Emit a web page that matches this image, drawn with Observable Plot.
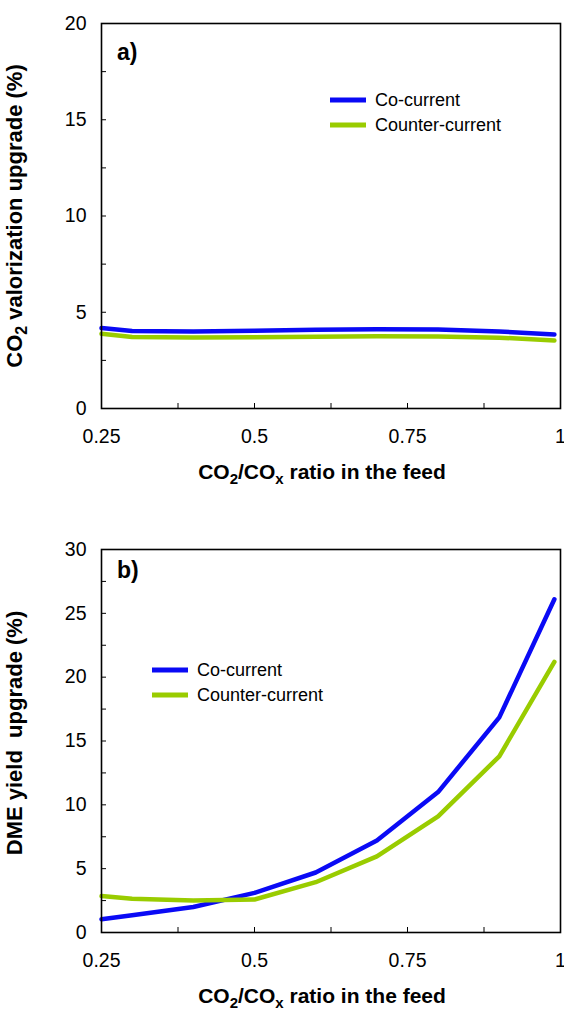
<!DOCTYPE html>
<html><head><meta charset="utf-8">
<script src="https://cdn.jsdelivr.net/npm/d3@7"></script>
<script src="https://cdn.jsdelivr.net/npm/@observablehq/plot@0.6"></script>
<style>
body{margin:0;background:#fff}
#c svg{display:block}
</style>
</head><body><div id="c"></div>
<script>
// ---- data ----
const ratio = [0.25, 0.3, 0.4, 0.5, 0.6, 0.7, 0.8, 0.9, 0.99];
const co2CoCurrent = [4.18, 4.03, 4.0, 4.04, 4.09, 4.12, 4.1, 4.0, 3.84];
const co2Counter = [3.88, 3.72, 3.69, 3.7, 3.73, 3.75, 3.74, 3.68, 3.53];
const dmeCoCurrent = [1.04, 1.35, 2.0, 3.1, 4.7, 7.2, 11.0, 16.85, 26.1];
const dmeCounter = [2.85, 2.64, 2.5, 2.58, 3.94, 5.96, 9.1, 13.8, 21.2];
const seriesNames = ["Co-current", "Counter-current"];
const seriesColors = ["#0a0af5", "#99cc00"];
const xTickLabels = [0.25, 0.5, 0.75, 1];
const xMinorTicks = [0.375, 0.5, 0.625, 0.75, 0.875];
const yTicksA = [0, 5, 10, 15, 20];
const yMinorA = [2.5, 5, 7.5, 10, 12.5, 15, 17.5];
const yTicksB = [0, 5, 10, 15, 20, 25, 30];
const yMinorB = [2.5, 5, 7.5, 10, 12.5, 15, 17.5, 20, 22.5, 25, 27.5];

const FONT = "'Liberation Sans', Arial, Helvetica, sans-serif";

function rows(a, b) {
  const out = [];
  ratio.forEach((r, i) => out.push({ratio: r, value: a[i], series: seriesNames[0]}));
  ratio.forEach((r, i) => out.push({ratio: r, value: b[i], series: seriesNames[1]}));
  return out;
}

function panel(cfg) {
  const data = rows(cfg.a, cfg.b);
  const svg = Plot.plot({
    width: 564, height: cfg.height,
    marginLeft: 101, marginRight: 4, marginTop: cfg.marginTop, marginBottom: cfg.marginBottom,
    style: {fontFamily: FONT, fontSize: "19px", color: "#000", background: "#fff", overflow: "visible"},
    x: {domain: [0.25, 1]},
    y: {domain: cfg.yDomain},
    color: {domain: seriesNames, range: seriesColors},
    marks: [
      Plot.axisX(xMinorTicks, {tickSize: 5, dy: -5, tickFormat: () => "", label: null}),
      Plot.axisX(xTickLabels, {tickSize: 0, tickPadding: 21, fontSize: 19, tickFormat: d => String(d), label: null}),
      Plot.axisY(cfg.yMinor, {tickSize: 5, dx: 5, tickFormat: () => "", label: null}),
      Plot.axisY(cfg.yTicks, {tickSize: 0, tickPadding: 15, fontSize: 19, label: null}),
      Plot.line(data, {x: "ratio", y: "value", stroke: "series", strokeWidth: 4.5, strokeLinejoin: "round"}),
      Plot.frame({stroke: "#000", strokeWidth: 1.6})
    ]
  });
  const s = d3.select(svg);
  s.selectAll('g[aria-label$="tick label"] text').style("font-size", "19.5px");
  // panel tag
  s.append("text").attr("x", 117).attr("y", cfg.tagY).attr("dy", "0.35em").attr("text-anchor", "start")
    .attr("font-family", FONT).attr("font-size", 23).attr("font-weight", "bold").text(cfg.tag);
  // legend
  seriesNames.forEach((n, i) => {
    const y = cfg.legY + i * 25;
    s.append("line").attr("x1", cfg.legX).attr("x2", cfg.legX + 36).attr("y1", y).attr("y2", y)
      .attr("stroke", seriesColors[i]).attr("stroke-width", 5);
    s.append("text").attr("x", cfg.legX + 45).attr("y", y).attr("dy", "0.35em").attr("text-anchor", "start")
      .attr("font-family", FONT).attr("font-size", 18).text(n);
  });
  // x title
  const xt = s.append("text").attr("x", 322).attr("y", cfg.xTitleY).attr("dy", "0.35em")
    .attr("text-anchor", "middle").attr("font-family", FONT).attr("font-size", 21).attr("font-weight", "bold");
  xt.append("tspan").text("CO");
  xt.append("tspan").attr("font-size", 15).attr("dy", 5).text("2");
  xt.append("tspan").attr("dy", -5).text("/CO");
  xt.append("tspan").attr("font-size", 15).attr("dy", 5).text("x");
  xt.append("tspan").attr("dy", -5).text(" ratio in the feed");
  // y title
  const yt = s.append("text").attr("transform", `translate(27,${cfg.yTitleY}) rotate(-90)`).attr("dy", "0.35em")
    .attr("text-anchor", "middle").attr("font-family", FONT).attr("font-size", cfg.yTitleSize).attr("font-weight", "bold");
  cfg.yTitle.forEach(([t, sub]) => {
    if (sub) { yt.append("tspan").attr("font-size", 16).attr("dy", 5).text(t); }
    else { yt.append("tspan").attr("dy", yt.selectAll("tspan").size() ? -5 : 0).text(t); }
  });
  return svg;
}

const c = document.getElementById("c");
c.appendChild(panel({
  a: co2CoCurrent, b: co2Counter, height: 500, marginTop: 23, marginBottom: 92,
  yDomain: [0, 20], yTicks: yTicksA, yMinor: yMinorA,
  tag: "a)", tagY: 52, legX: 330, legY: 100, xTitleY: 472, yTitleY: 216, yTitleSize: 22,
  yTitle: [["CO"], ["2", true], [" valorization upgrade (%)"]]
}));
c.appendChild(panel({
  a: dmeCoCurrent, b: dmeCounter, height: 513, marginTop: 49, marginBottom: 81,
  yDomain: [0, 30], yTicks: yTicksB, yMinor: yMinorB,
  tag: "b)", tagY: 70, legX: 152, legY: 170, xTitleY: 496, yTitleY: 233, yTitleSize: 22,
  yTitle: [["DME yield\u00a0 upgrade (%)"]]
}));
</script>
</body></html>
